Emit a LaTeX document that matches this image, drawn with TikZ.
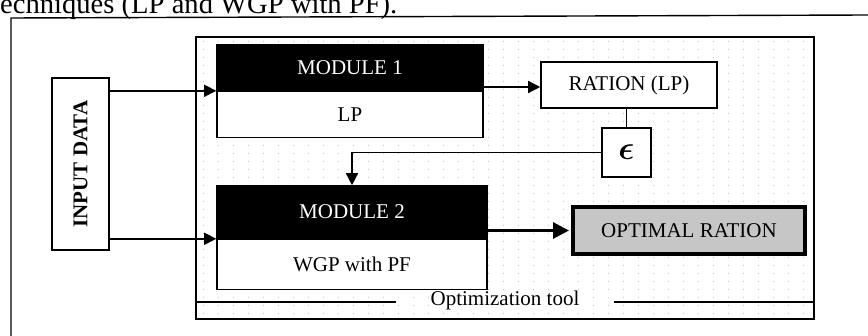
\documentclass[tikz,border=0pt]{standalone}
\usepackage{fontspec}
\setmainfont{Liberation Serif}
\usepackage{amsmath,bm,graphicx}
\usetikzlibrary{arrows.meta}
\begin{document}
\begin{tikzpicture}[x=1pt,y=-1pt,
  txt/.style={font=\fontsize{21}{25}\selectfont},
  boxw/.style={draw=black, line width=1.6pt, fill=white, inner sep=0pt, txt},
  hdr/.style={draw=black, line width=1.6pt, fill=black, text=white, inner sep=0pt, txt},
  conn/.style={line width=1.5pt, -{Triangle[length=12pt,width=12pt]}},
  plain/.style={line width=1.3pt},
  frame/.style={line width=1.4pt},
  grid/.style={gray!45, line width=0.8pt, dash pattern=on 0.8pt off 7.2pt}]
\useasboundingbox (0,0) rectangle (868,336);
\clip (0,0) rectangle (868,336);
% title fragment
\node[anchor=base west, inner sep=0pt, font=\fontsize{28.6}{32}\selectfont] (title) at (0,14) {echniques (LP and WGP with PF).};
% outer frame (continues beyond the picture)
\coordinate (otl) at (11,18);
\coordinate (otr) at (868,15);
\coordinate (obl) at (11,336);
\draw[frame] (obl) -- (otl) -- (otr);
% inner frame: Optimization tool
\foreach \x in {203,218,...,808} \draw[grid] (\x,41) -- (\x,316);
\coordinate (itl) at (196,37);
\coordinate (ibr) at (814,319);
\draw[frame] (itl) rectangle (ibr);
\node[txt, inner sep=0pt, fill=white] (opttool) at (505,300) {Optimization tool};
\coordinate (ll) at (196,302);
\coordinate (lr) at (814,302);
\draw[frame] (ll) -- ([xshift=-34pt]opttool.west |- ll);
\draw[frame] ([xshift=34pt]opttool.east |- lr) -- (lr);
% input data
\node[boxw, minimum width=57pt, minimum height=172pt, font=\fontsize{21}{25}\selectfont\bfseries] (input) at (80.5,164) {\rotatebox{90}{INPUT DATA}};
% module 1
\node[hdr, minimum width=266pt, minimum height=45pt] (m1h) at (350,67.5) {MODULE 1};
\node[boxw, minimum width=266pt, minimum height=46pt, anchor=north] (m1b) at (m1h.south) {LP};
% module 2
\node[hdr, minimum width=270pt, minimum height=52pt] (m2h) at (352,212) {MODULE 2};
\node[boxw, minimum width=270pt, minimum height=50pt, anchor=north] (m2b) at (m2h.south) {WGP with PF};
% ration LP
\node[boxw, minimum width=176pt, minimum height=46pt] (ration) at (629,85) {RATION (LP)};
% epsilon
\node[boxw, minimum width=49pt, minimum height=49pt] (eps) at (626.5,152.5) {\scalebox{1.6}{$\bm{\epsilon}$}};
% optimal ration
\node[draw=black, line width=4pt, fill=gray!45, inner sep=0pt, txt, minimum width=232pt, minimum height=47pt] (opt) at (689,230.5) {OPTIMAL RATION};
% connectors
\draw[conn] (input.east |- m1h.south west) -- (m1h.south west);
\draw[conn] (input.east |- m2h.south west) -- (m2h.south west);
\draw[conn] (m1h.east |- 0,87) -- (ration.west |- 0,87);
\draw[plain] (eps.north) -- (eps.north |- ration.south);
\draw[conn] (eps.west) -| (m2h.north);
\draw[line width=3pt, -{Triangle[length=16pt,width=16pt]}] (m2h.east |- opt.west) -- ([xshift=-2pt]opt.west);
\end{tikzpicture}
\end{document}
